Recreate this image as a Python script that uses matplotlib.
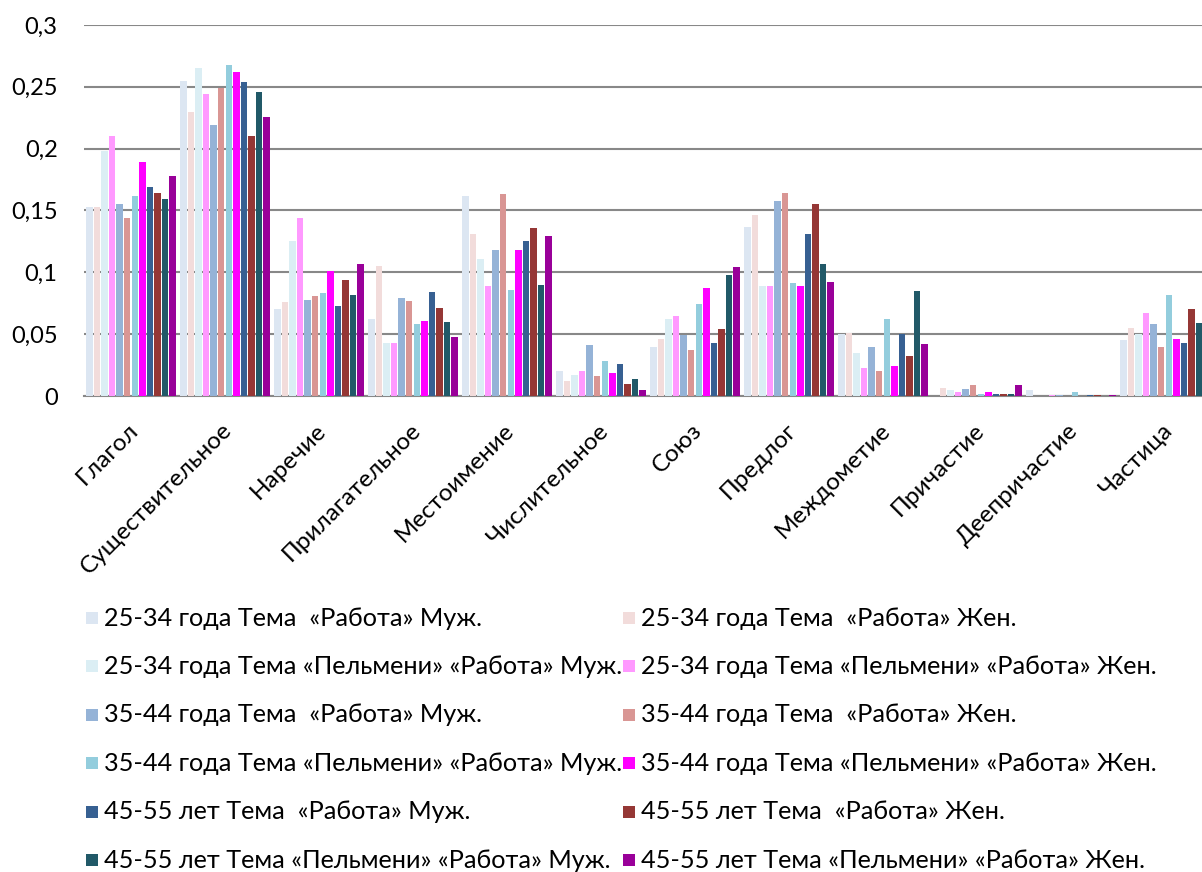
import matplotlib
matplotlib.use("Agg")
import matplotlib.pyplot as plt
import matplotlib.transforms as mtransforms
from matplotlib.patches import Rectangle
import numpy as np

plt.rcParams['font.family'] = ['Lato', 'DejaVu Sans']

categories = ["Глагол", "Существительное", "Наречие", "Прилагательное", "Местоимение",
              "Числительное", "Союз", "Предлог", "Междометие", "Причастие",
              "Деепричастие", "Частица"]

series_names = [
    "25-34 года Тема  «Работа» Муж.",
    "25-34 года Тема  «Работа» Жен.",
    "25-34 года Тема «Пельмени» «Работа» Муж.",
    "25-34 года Тема «Пельмени» «Работа» Жен.",
    "35-44 года Тема  «Работа» Муж.",
    "35-44 года Тема  «Работа» Жен.",
    "35-44 года Тема «Пельмени» «Работа» Муж.",
    "35-44 года Тема «Пельмени» «Работа» Жен.",
    "45-55 лет Тема  «Работа» Муж.",
    "45-55 лет Тема  «Работа» Жен.",
    "45-55 лет Тема «Пельмени» «Работа» Муж.",
    "45-55 лет Тема «Пельмени» «Работа» Жен.",
]

colors = ["#DCE6F2", "#F2DCDB", "#DBEEF4", "#FF99FF", "#95B3D7", "#D99694",
          "#93CDDD", "#FF00FF", "#376092", "#953735", "#215968", "#990099"]

# one list per series, values in category order
m25_work   = [0.153, 0.255, 0.070, 0.062, 0.162, 0.020, 0.040, 0.137, 0.050, 0.000, 0.0046, 0.045]
f25_work   = [0.153, 0.230, 0.076, 0.105, 0.131, 0.012, 0.046, 0.146, 0.051, 0.0068, 0.000, 0.055]
m25_pelm   = [0.198, 0.265, 0.125, 0.043, 0.111, 0.017, 0.062, 0.089, 0.035, 0.0046, 0.000, 0.050]
f25_pelm   = [0.210, 0.244, 0.144, 0.043, 0.089, 0.020, 0.065, 0.089, 0.023, 0.0035, 0.0008, 0.067]
m35_work   = [0.155, 0.219, 0.078, 0.079, 0.118, 0.041, 0.049, 0.158, 0.040, 0.0057, 0.0008, 0.058]
f35_work   = [0.144, 0.249, 0.081, 0.077, 0.163, 0.016, 0.037, 0.164, 0.020, 0.0087, 0.000, 0.040]
m35_pelm   = [0.162, 0.268, 0.083, 0.058, 0.086, 0.028, 0.074, 0.091, 0.062, 0.002, 0.003, 0.082]
f35_pelm   = [0.189, 0.262, 0.101, 0.061, 0.118, 0.019, 0.087, 0.089, 0.024, 0.003, 0.000, 0.046]
m45_work   = [0.169, 0.254, 0.073, 0.084, 0.125, 0.026, 0.043, 0.131, 0.050, 0.002, 0.0008, 0.043]
f45_work   = [0.164, 0.210, 0.094, 0.071, 0.136, 0.010, 0.054, 0.155, 0.032, 0.002, 0.0008, 0.070]
m45_pelm   = [0.159, 0.246, 0.082, 0.060, 0.090, 0.014, 0.098, 0.107, 0.085, 0.002, 0.000, 0.059]
f45_pelm   = [0.178, 0.226, 0.107, 0.048, 0.129, 0.005, 0.104, 0.092, 0.042, 0.0087, 0.0008, 0.050]

series_values = [m25_work, f25_work, m25_pelm, f25_pelm, m35_work, f35_work,
                 m35_pelm, f35_pelm, m45_work, f45_work, m45_pelm, f45_pelm]

y_ticks = [0, 0.05, 0.1, 0.15, 0.2, 0.25, 0.3]
y_tick_labels = ["0", "0,05", "0,1", "0,15", "0,2", "0,25", "0,3"]

W, H = 1202, 872
fig = plt.figure(figsize=(W / 100, H / 100), dpi=100)
# plot area runs slightly past the right edge of the figure
ax = fig.add_axes([84 / W, 1 - 396 / H, 1128 / W, 371 / H])

x = np.arange(len(categories))
step = 0.0806
bar_w = 0.068
for j, (vals, col) in enumerate(zip(series_values, colors)):
    ax.bar(x + (j - 5.5) * step, vals, width=bar_w, color=col, zorder=3,
           edgecolor=col, linewidth=0)

ax.set_xlim(-0.5, len(categories) - 0.5)
ax.set_ylim(0, 0.3)
ax.set_yticks(y_ticks)
ax.set_yticklabels(y_tick_labels, fontsize=17)
ax.yaxis.grid(True, color="#888888", linewidth=1.5, zorder=0)
ax.set_axisbelow(True)
ax.tick_params(axis="y", length=0, pad=19)
ax.tick_params(axis="x", length=0, pad=0)

for s in ["top", "right", "left"]:
    ax.spines[s].set_visible(False)
ax.spines["bottom"].set_color("#888888")
ax.spines["bottom"].set_linewidth(1.5)

ax.set_xticks(x)
ax.set_xticklabels(categories, fontsize=17.5, rotation=45, ha="right", va="center",
                   rotation_mode="anchor")
offset = mtransforms.ScaledTranslation(4 / 100, -31 / 100, fig.dpi_scale_trans)
for lbl in ax.get_xticklabels():
    lbl.set_transform(lbl.get_transform() + offset)

# legend: two columns, six rows
col_x = [86, 623]
row_y0 = 618
row_dy = 48.4
for j, (name, col) in enumerate(zip(series_names, colors)):
    c = j % 2
    r = j // 2
    cx = col_x[c]
    cy = row_y0 + r * row_dy
    fig.patches.append(Rectangle((cx / W, 1 - (cy + 6) / H), 12 / W, 12 / H,
                                 transform=fig.transFigure, facecolor=col,
                                 edgecolor="none"))
    fig.text((cx + 18) / W, 1 - cy / H, name, fontsize=18.2, va="center", ha="left",
             color="#000000")

fig.savefig("out.png", dpi=100)
